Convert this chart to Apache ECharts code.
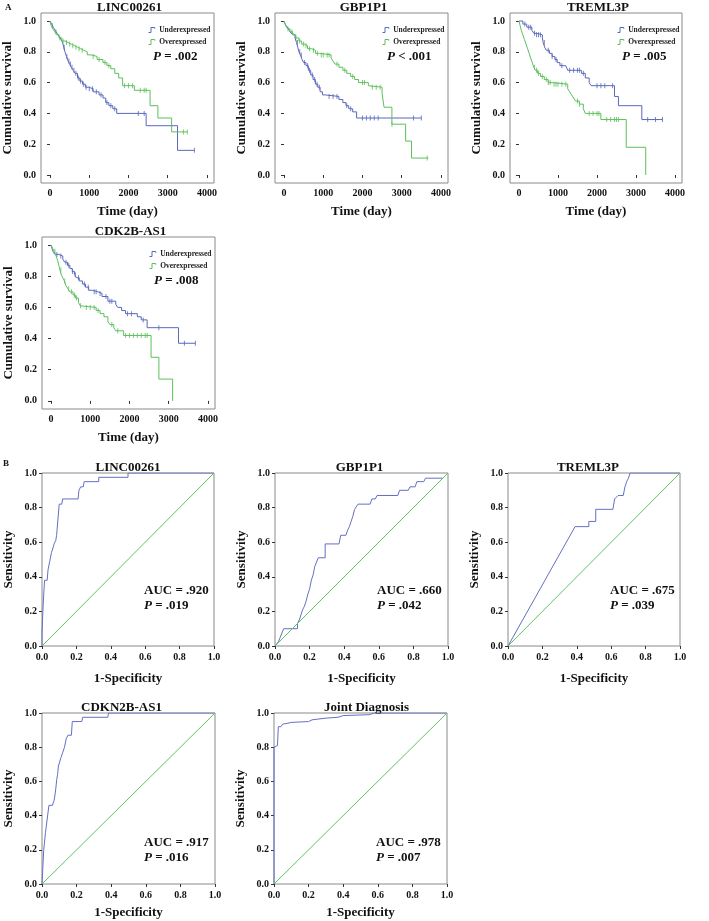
<!DOCTYPE html>
<html>
<head>
    <meta charset="utf-8">
    <title>Survival and ROC</title>
    <script src="https://cdn.jsdelivr.net/npm/echarts@6/dist/echarts.min.js"></script>
    <style>
        html, body { margin: 0; padding: 0; background: #fff; }
        #chart1 { width: 709px; height: 921px; }
    </style>
</head>
<body>
<div id="chart1"></div>
<script type="text/javascript">
    // ---- A: Kaplan-Meier curves (time in days, cumulative survival) ----
    var kmTitles = ['LINC00261', 'GBP1P1', 'TREML3P', 'CDK2B-AS1'];
    var kmPText = ['= .002', '< .001', '= .005', '= .008'];
    var kmTicks = [0, 1000, 2000, 3000, 4000];
    var survTicks = [0, 0.2, 0.4, 0.6, 0.8, 1.0];

    var lincUnderT = [0, 40, 80, 130, 180, 230, 280, 320, 350, 380, 420, 460, 500, 540, 590, 640, 700, 760, 830, 900, 980, 1100, 1250, 1350, 1420, 1500, 1600, 1700, 2450, 3250, 3680];
    var lincUnderS = [1.0, 0.98, 0.96, 0.94, 0.92, 0.90, 0.88, 0.86, 0.83, 0.80, 0.77, 0.74, 0.72, 0.70, 0.68, 0.66, 0.63, 0.61, 0.59, 0.57, 0.56, 0.54, 0.52, 0.50, 0.47, 0.45, 0.43, 0.40, 0.32, 0.16, 0.16];
    var lincUnderC = [360, 430, 480, 520, 560, 610, 660, 720, 780, 850, 920, 1000, 1080, 1180, 1300, 1450, 1550, 1650, 2250, 2400, 3680];
    var lincOverT = [0, 30, 70, 120, 170, 230, 300, 380, 460, 540, 620, 700, 780, 860, 950, 1050, 1200, 1350, 1450, 1550, 1650, 1750, 1850, 2150, 2550, 2750, 3100, 3500];
    var lincOverS = [1.0, 0.97, 0.95, 0.93, 0.91, 0.89, 0.87, 0.86, 0.85, 0.84, 0.83, 0.82, 0.81, 0.80, 0.78, 0.77, 0.75, 0.73, 0.71, 0.69, 0.66, 0.63, 0.58, 0.55, 0.45, 0.37, 0.28, 0.28];
    var lincOverC = [60, 150, 250, 330, 420, 500, 580, 660, 740, 820, 1100, 1250, 1400, 1500, 1900, 2000, 2100, 2300, 2400, 2450, 3400, 3500];

    var gbpUnderT = [0, 30, 80, 130, 180, 230, 280, 320, 350, 380, 420, 460, 500, 560, 620, 680, 740, 800, 860, 920, 980, 1050, 1400, 1500, 1580, 1650, 1750, 1850, 3500];
    var gbpUnderS = [1.0, 0.98, 0.96, 0.94, 0.92, 0.91, 0.89, 0.86, 0.83, 0.80, 0.78, 0.75, 0.73, 0.71, 0.68, 0.65, 0.62, 0.59, 0.57, 0.54, 0.52, 0.51, 0.49, 0.47, 0.45, 0.43, 0.41, 0.37, 0.37];
    var gbpUnderC = [340, 400, 440, 520, 600, 650, 720, 780, 840, 900, 1150, 1250, 1350, 1600, 1700, 2000, 2100, 2200, 2300, 2400, 3300, 3500];
    var gbpOverT = [0, 40, 90, 150, 220, 300, 380, 450, 520, 600, 700, 800, 900, 1200, 1250, 1300, 1400, 1500, 1600, 1700, 1800, 1900, 2150, 2200, 2500, 2550, 2750, 3100, 3250, 3680];
    var gbpOverS = [1.0, 0.97, 0.95, 0.93, 0.91, 0.89, 0.87, 0.85, 0.84, 0.82, 0.81, 0.79, 0.78, 0.76, 0.74, 0.72, 0.70, 0.68, 0.66, 0.64, 0.62, 0.60, 0.58, 0.57, 0.53, 0.44, 0.33, 0.22, 0.11, 0.11];
    var gbpOverC = [100, 200, 300, 400, 500, 560, 650, 750, 850, 950, 1000, 1100, 1150, 1350, 1550, 1750, 2000, 2050, 2250, 2350, 2450, 2750, 3650];

    var tremUnderT = [0, 100, 200, 330, 380, 450, 600, 620, 660, 700, 780, 850, 920, 980, 1050, 1200, 1250, 1600, 1700, 1800, 1850, 2450, 2550, 3150, 3680];
    var tremUnderS = [1.0, 0.98, 0.96, 0.94, 0.92, 0.91, 0.89, 0.86, 0.83, 0.81, 0.79, 0.77, 0.75, 0.73, 0.71, 0.70, 0.68, 0.66, 0.63, 0.60, 0.58, 0.51, 0.45, 0.36, 0.36];
    var tremUnderC = [150, 250, 300, 400, 450, 500, 550, 650, 750, 850, 950, 1100, 1300, 1400, 1500, 1550, 1650, 2000, 2100, 2200, 2400, 3300, 3500, 3680];
    var tremOverT = [0, 30, 60, 100, 140, 180, 220, 260, 300, 340, 380, 420, 480, 550, 650, 750, 850, 1250, 1300, 1350, 1400, 1450, 1550, 1650, 1700, 2100, 2750, 3250];
    var tremOverS = [1.0, 0.97, 0.94, 0.91, 0.88, 0.85, 0.82, 0.79, 0.76, 0.73, 0.70, 0.68, 0.66, 0.64, 0.62, 0.60, 0.59, 0.56, 0.54, 0.52, 0.50, 0.48, 0.46, 0.43, 0.40, 0.36, 0.18, 0.0];
    var tremOverC = [400, 450, 500, 600, 700, 750, 800, 900, 950, 1000, 1100, 1200, 1500, 1550, 1800, 1900, 2000, 2050, 2250, 2350, 2450, 2500, 2550];

    var cdkUnderT = [0, 50, 100, 200, 300, 350, 420, 480, 540, 600, 650, 720, 800, 880, 960, 1050, 1200, 1300, 1450, 1650, 1700, 1800, 1900, 2200, 2300, 2450, 3250, 3680];
    var cdkUnderS = [1.0, 0.96, 0.94, 0.93, 0.91, 0.89, 0.87, 0.85, 0.83, 0.81, 0.79, 0.77, 0.75, 0.73, 0.71, 0.70, 0.69, 0.67, 0.64, 0.62, 0.60, 0.58, 0.56, 0.54, 0.52, 0.47, 0.37, 0.37];
    var cdkUnderC = [150, 250, 380, 450, 550, 620, 700, 850, 950, 1100, 1150, 1250, 1400, 1500, 1550, 1950, 2050, 2350, 2750, 3400, 3680];
    var cdkOverT = [0, 40, 80, 130, 170, 200, 230, 260, 300, 340, 380, 430, 480, 560, 620, 700, 750, 800, 1150, 1250, 1350, 1450, 1500, 1600, 1650, 1850, 2550, 2750, 3100];
    var cdkOverS = [1.0, 0.98, 0.96, 0.93, 0.90, 0.87, 0.84, 0.81, 0.79, 0.77, 0.74, 0.72, 0.70, 0.68, 0.66, 0.63, 0.61, 0.60, 0.58, 0.56, 0.54, 0.51, 0.49, 0.47, 0.45, 0.42, 0.28, 0.14, 0.0];
    var cdkOverC = [100, 250, 350, 450, 520, 600, 650, 750, 900, 1000, 1100, 1200, 1550, 1700, 1900, 2000, 2100, 2200, 2300, 2400, 2450];

    // ---- B: ROC curves (1-specificity, sensitivity) ----
    var rocTitles = ['LINC00261', 'GBP1P1', 'TREML3P', 'CDKN2B-AS1', 'Joint Diagnosis'];
    var rocAUC = ['.920', '.660', '.675', '.917', '.978'];
    var rocP = ['.019', '.042', '.039', '.016', '.007'];

    var lincFpr = [0, 0, 0.005, 0.01, 0.015, 0.03, 0.035, 0.045, 0.05, 0.055, 0.065, 0.07, 0.08, 0.085, 0.095, 0.1, 0.115, 0.12, 0.21, 0.215, 0.225, 0.24, 0.245, 0.33, 0.33, 0.5, 0.5, 1];
    var lincTpr = [0, 0.08, 0.2, 0.3, 0.38, 0.38, 0.44, 0.49, 0.5, 0.54, 0.57, 0.59, 0.61, 0.64, 0.65, 0.82, 0.82, 0.85, 0.85, 0.9, 0.92, 0.92, 0.95, 0.95, 0.975, 0.975, 1.0, 1.0];
    var gbpFpr = [0, 0.02, 0.03, 0.04, 0.05, 0.13, 0.13, 0.14, 0.15, 0.16, 0.17, 0.18, 0.19, 0.2, 0.21, 0.22, 0.23, 0.24, 0.25, 0.29, 0.29, 0.37, 0.38, 0.41, 0.42, 0.43, 0.44, 0.45, 0.46, 0.48, 0.55, 0.56, 0.58, 0.59, 0.71, 0.72, 0.77, 0.78, 0.81, 0.82, 0.86, 0.87, 0.97, 1];
    var gbpTpr = [0, 0.025, 0.05, 0.075, 0.1, 0.1, 0.13, 0.15, 0.18, 0.21, 0.23, 0.26, 0.3, 0.33, 0.38, 0.41, 0.46, 0.46, 0.51, 0.51, 0.59, 0.59, 0.64, 0.64, 0.67, 0.69, 0.72, 0.75, 0.79, 0.82, 0.82, 0.85, 0.85, 0.87, 0.87, 0.9, 0.9, 0.92, 0.92, 0.95, 0.95, 0.97, 0.97, 1];
    var tremFpr = [0, 0.39, 0.47, 0.47, 0.51, 0.51, 0.61, 0.62, 0.63, 0.64, 0.67, 0.68, 0.69, 0.7, 0.71, 1];
    var tremTpr = [0, 0.69, 0.69, 0.72, 0.72, 0.79, 0.79, 0.85, 0.85, 0.87, 0.87, 0.92, 0.95, 0.97, 1.0, 1.0];
    var cdkFpr = [0, 0.005, 0.01, 0.02, 0.03, 0.04, 0.06, 0.07, 0.075, 0.08, 0.085, 0.09, 0.095, 0.105, 0.11, 0.12, 0.13, 0.14, 0.15, 0.17, 0.175, 0.23, 0.235, 0.38, 0.385, 1];
    var cdkTpr = [0, 0.1, 0.2, 0.3, 0.38, 0.46, 0.46, 0.49, 0.52, 0.56, 0.61, 0.64, 0.69, 0.69, 0.74, 0.77, 0.8, 0.85, 0.87, 0.87, 0.95, 0.95, 0.975, 0.975, 1.0, 1.0];
    var jointFpr = [0, 0, 0.02, 0.025, 0.04, 0.05, 0.08, 0.1, 0.2, 0.22, 0.3, 0.37, 0.4, 0.55, 0.58, 1];
    var jointTpr = [0, 0.8, 0.81, 0.92, 0.92, 0.935, 0.94, 0.945, 0.95, 0.96, 0.97, 0.975, 0.985, 0.99, 1.0, 1.0];
    var refLine = [0, 1];

    var kmData = [
        [lincUnderT, lincUnderS, lincUnderC, lincOverT, lincOverS, lincOverC],
        [gbpUnderT, gbpUnderS, gbpUnderC, gbpOverT, gbpOverS, gbpOverC],
        [tremUnderT, tremUnderS, tremUnderC, tremOverT, tremOverS, tremOverC],
        [cdkUnderT, cdkUnderS, cdkUnderC, cdkOverT, cdkOverS, cdkOverC]
    ];
    var rocData = [[lincFpr, lincTpr], [gbpFpr, gbpTpr], [tremFpr, tremTpr], [cdkFpr, cdkTpr], [jointFpr, jointTpr]];

    var BLUE = '#5868bb';
    var GREEN = '#5cbf5c';
    var FONT = '"Liberation Serif", "DejaVu Serif", serif';
    var BOX = '#8a8a8a';

    // grid boxes in page pixels
    var kmGrids = [
        {left: 41, top: 13, width: 173, height: 170},
        {left: 275, top: 13, width: 173, height: 170},
        {left: 510, top: 13, width: 172, height: 170},
        {left: 42, top: 237, width: 173, height: 172}
    ];
    var rocGrids = [
        {left: 42, top: 473, width: 172, height: 173, nameGap: 26, dx: 0},
        {left: 275, top: 473, width: 173, height: 173, nameGap: 26, dx: -2},
        {left: 508, top: 473, width: 172, height: 173, nameGap: 26, dx: -6},
        {left: 42, top: 713, width: 173, height: 171, nameGap: 22, dx: -7},
        {left: 274, top: 713, width: 173, height: 171, nameGap: 22, dx: 6}
    ];

    function survAt(ts, ss, c) {
        var s = ss[0];
        for (var i = 0; i < ts.length; i++) {
            if (ts[i] <= c) s = ss[i];
        }
        return s;
    }

    function tickFmt(v) { return v.toFixed(1); }
    function dayFmt(v) { return String(v); }

    var grids = [], xAxes = [], yAxes = [], series = [], legends = [], graphics = [];
    var labelStyle = {fontFamily: FONT, fontWeight: 'bold', fontSize: 10, color: '#111'};
    var nameStyle = {fontFamily: FONT, fontWeight: 'bold', fontSize: 13, color: '#111'};
    var italicRich = {i: {fontFamily: FONT, fontWeight: 'bold', fontStyle: 'italic', fontSize: 13, fill: '#111'}};

    kmGrids.forEach(function (g, k) {
        grids.push({left: g.left, top: g.top, width: g.width, height: g.height, show: true,
            borderColor: BOX, borderWidth: 1, containLabel: false, outerBoundsMode: 'none'});
        xAxes.push({
            type: 'value', gridIndex: k, min: -230, max: 4180,
            name: 'Time (day)', nameLocation: 'middle', nameGap: 22, nameTextStyle: nameStyle,
            axisLine: {show: false}, splitLine: {show: false},
            axisTick: {show: true, length: 3, customValues: kmTicks, lineStyle: {color: '#333'}},
            axisLabel: Object.assign({customValues: kmTicks, margin: 5, formatter: dayFmt}, labelStyle)
        });
        yAxes.push({
            type: 'value', gridIndex: k, min: -0.052, max: 1.052,
            name: 'Cumulative survival', nameLocation: 'middle', nameGap: 27, nameTextStyle: nameStyle,
            axisLine: {show: false}, splitLine: {show: false},
            axisTick: {show: true, length: 3, customValues: survTicks, lineStyle: {color: '#333'}},
            axisLabel: Object.assign({customValues: survTicks, margin: 5, formatter: tickFmt}, labelStyle)
        });
        var d = kmData[k];
        var groups = [['Underexpressed', BLUE, d[0], d[1], d[2]], ['Overexpressed', GREEN, d[3], d[4], d[5]]];
        groups.forEach(function (gr) {
            var ts = gr[2], ss = gr[3];
            series.push({
                name: gr[0], type: 'line', step: 'end', xAxisIndex: k, yAxisIndex: k,
                showSymbol: false, symbol: 'none', animation: false,
                lineStyle: {color: gr[1], width: 1}, itemStyle: {color: gr[1]},
                data: ts.map(function (t, i) { return [t, ss[i]]; })
            });
            series.push({
                name: gr[0] + ' censored', type: 'scatter', xAxisIndex: k, yAxisIndex: k,
                symbol: 'rect', symbolSize: [1, 5], animation: false,
                itemStyle: {color: gr[1]},
                data: gr[4].map(function (c) { return [c, survAt(ts, ss, c)]; })
            });
        });
        legends.push({
            data: [
                {name: 'Underexpressed', itemStyle: {color: 'rgba(0,0,0,0)', borderColor: BLUE, borderWidth: 1}},
                {name: 'Overexpressed', itemStyle: {color: 'rgba(0,0,0,0)', borderColor: GREEN, borderWidth: 1}}
            ],
            orient: 'vertical',
            left: g.left + 102, top: g.top + 8, itemWidth: 7, itemHeight: 5, itemGap: 4,
            icon: 'path://M0,10 L4,10 L4,2 L10,2 L10,4', selectedMode: false,
            textStyle: {fontFamily: FONT, fontWeight: 'bold', fontSize: 7.5, color: '#222', padding: [0, 0, 0, -1]}
        });
        graphics.push({
            type: 'text', x: g.left + g.width / 2 + 2, y: g.top - 12,
            style: {text: kmTitles[k], align: 'center', fontFamily: FONT, fontWeight: 'bold', fontSize: 13, fill: '#111'}
        });
        graphics.push({
            type: 'text', x: g.left + 112, y: g.top + 37,
            style: {
                text: '{i|P} ' + kmPText[k], fontFamily: FONT, fontWeight: 'bold', fontSize: 13, fill: '#111',
                rich: italicRich
            }
        });
    });

    rocGrids.forEach(function (g, r) {
        var k = kmGrids.length + r;
        grids.push({left: g.left, top: g.top, width: g.width, height: g.height, show: true,
            borderColor: BOX, borderWidth: 1, containLabel: false, outerBoundsMode: 'none'});
        xAxes.push({
            type: 'value', gridIndex: k, min: 0, max: 1, interval: 0.2,
            name: '1-Specificity', nameLocation: 'middle', nameGap: g.nameGap, nameTextStyle: nameStyle,
            axisLine: {show: false}, splitLine: {show: false},
            axisTick: {show: true, length: 3, lineStyle: {color: '#333'}},
            axisLabel: Object.assign({margin: 6, formatter: tickFmt, showMinLabel: true, showMaxLabel: true}, labelStyle)
        });
        yAxes.push({
            type: 'value', gridIndex: k, min: 0, max: 1, interval: 0.2,
            name: 'Sensitivity', nameLocation: 'middle', nameGap: 27, nameTextStyle: nameStyle,
            axisLine: {show: false}, splitLine: {show: false},
            axisTick: {show: true, length: 3, lineStyle: {color: '#333'}},
            axisLabel: Object.assign({margin: 5, formatter: tickFmt, showMinLabel: true, showMaxLabel: true}, labelStyle)
        });
        var fpr = rocData[r][0], tpr = rocData[r][1];
        series.push({
            name: rocTitles[r], type: 'line', xAxisIndex: k, yAxisIndex: k, symbol: 'none', animation: false,
            lineStyle: {color: '#6470c2', width: 1}, itemStyle: {color: '#6470c2'},
            data: fpr.map(function (v, i) { return [v, tpr[i]]; })
        });
        series.push({
            name: 'Reference ' + r, type: 'line', xAxisIndex: k, yAxisIndex: k, symbol: 'none', animation: false,
            z: 3, lineStyle: {color: '#5ec45e', width: 1, opacity: 1}, itemStyle: {color: '#5ec45e'},
            data: refLine.map(function (v) { return [v, v]; })
        });
        graphics.push({
            type: 'text', x: g.left + g.width / 2 + g.dx, y: g.top - 12,
            style: {text: rocTitles[r], align: 'center', fontFamily: FONT, fontWeight: 'bold', fontSize: 13, fill: '#111'}
        });
        var auY = r < 3 ? g.top + g.height - 63 : g.top + g.height - 49;
        graphics.push({
            type: 'text', x: g.left + 102, y: auY,
            style: {
                text: 'AUC = ' + rocAUC[r] + '\n{i|P} = ' + rocP[r], lineHeight: 15,
                fontFamily: FONT, fontWeight: 'bold', fontSize: 13, fill: '#111',
                rich: italicRich
            }
        });
    });

    graphics.push({type: 'text', x: 5, y: 3, style: {text: 'A', fontFamily: FONT, fontWeight: 'bold', fontSize: 9, fill: '#111'}});
    graphics.push({type: 'text', x: 3, y: 459, style: {text: 'B', fontFamily: FONT, fontWeight: 'bold', fontSize: 9, fill: '#111'}});

    var myChart1 = echarts.init(document.getElementById('chart1'));
    myChart1.setOption({
        backgroundColor: '#fff',
        animation: false,
        grid: grids,
        xAxis: xAxes,
        yAxis: yAxes,
        legend: legends,
        graphic: graphics,
        series: series
    });
</script>
</body>
</html>
